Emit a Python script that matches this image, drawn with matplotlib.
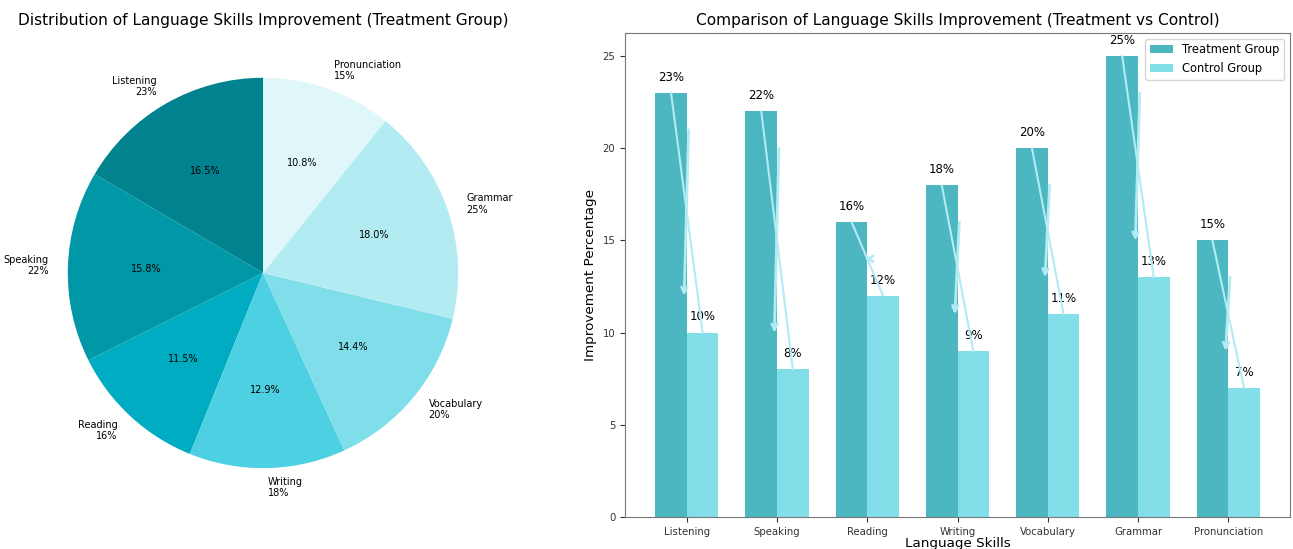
import numpy as np
import matplotlib.pyplot as plt

# ======== Dados =========
skills = ['Listening', 'Speaking', 'Reading', 'Writing', 'Vocabulary', 'Grammar', 'Pronunciation']
treatment = [23, 22, 16, 18, 20, 25, 15]
control = [10, 8, 12, 9, 11, 13, 7]

pie_colors = ['#00838F', '#0097A7', '#00ACC1', '#4DD0E1', '#80DEEA', '#B2EBF2', '#E0F7FA']

fig = plt.figure(figsize=(12.93, 5.49), dpi=100)

# ======== Pizza (grupo de tratamento) =========
ax1 = fig.add_axes([0.0147, 0.0583, 0.3774, 0.889])
pie_labels = [f'{s}\n{v}%' for s, v in zip(skills, treatment)]
wedges, texts, autotexts = ax1.pie(treatment, labels=pie_labels, colors=pie_colors,
                                   autopct='%1.1f%%', startangle=90,
                                   textprops={'fontsize': 7})
ax1.set_title('Distribution of Language Skills Improvement (Treatment Group)', fontsize=11.1, pad=3)
ax1.set_aspect('equal')

# ======== Barras (tratamento vs controle) =========
ax2 = fig.add_axes([0.4834, 0.0583, 0.5143, 0.8816])
x = np.arange(len(skills))
width = 0.35

ax2.bar(x - width / 2, treatment, width, label='Treatment Group', color='#0097A7', alpha=0.7)
ax2.bar(x + width / 2, control, width, label='Control Group', color='#4DD0E1', alpha=0.7)

for i in range(len(skills)):
    ax2.text(x[i] - width / 2, treatment[i] + 0.5, f'{treatment[i]}%', ha='center', va='bottom', fontsize=8.5)
    ax2.text(x[i] + width / 2, control[i] + 0.5, f'{control[i]}%', ha='center', va='bottom', fontsize=8.5)
    # linha longa do topo do tratamento ao topo do controle
    ax2.annotate('', xy=(x[i] + width / 2, control[i]), xytext=(x[i] - width / 2, treatment[i]),
                 arrowprops=dict(arrowstyle='-', color='#B2EBF2', lw=1.5, shrinkA=0, shrinkB=0))
    # seta curta
    ax2.annotate('', xy=(x[i] - 0.03, control[i] + 2), xytext=(x[i] + 0.02, treatment[i] - 2),
                 arrowprops=dict(arrowstyle='->', color='#B2EBF2', lw=2, shrinkA=0, shrinkB=0))

ax2.set_xticks(x)
ax2.set_xticklabels(skills, fontsize=7.3, color='#333333')
ax2.tick_params(axis='y', labelsize=7.3, labelcolor='#333333')
ax2.tick_params(colors='#333333')
ax2.set_xlabel('Language Skills', fontsize=9.7, labelpad=0)
ax2.set_ylabel('Improvement Percentage', fontsize=9.7)
ax2.set_title('Comparison of Language Skills Improvement (Treatment vs Control)', fontsize=11.1)
ax2.legend(loc='upper right', fontsize=8.3)
for sp in ax2.spines.values():
    sp.set_color('#777777')

fig.savefig('out.png', dpi=100)
